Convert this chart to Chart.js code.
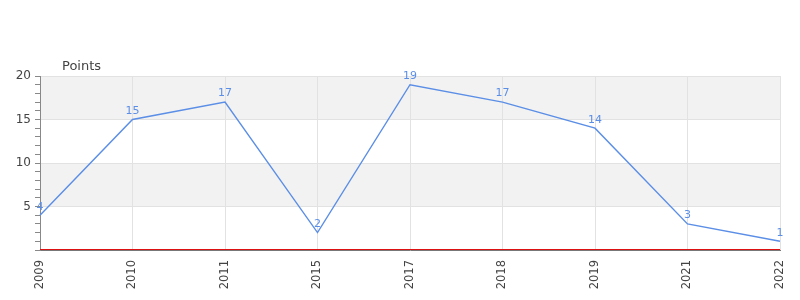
<!DOCTYPE html>
<html lang="en">
<head>
    <meta charset="UTF-8">
    <title>Points</title>
    <script src="https://cdn.jsdelivr.net/npm/chart.js"></script>
    <style>
        html, body { margin: 0; padding: 0; background: #fff; }
        .chart-box { width: 800px; height: 300px; position: relative; }
    </style>
</head>
<body>
    <div class="chart-box">
        <canvas id="line-chart"></canvas>
    </div>

    <script>
        // Data
        const years = ['2009', '2010', '2011', '2015', '2017', '2018', '2019', '2021', '2022'];
        const points = [4, 15, 17, 2, 19, 17, 14, 3, 1];
        const yTicks = [5, 10, 15, 20];

        const lineColor = '#5b8ee6';
        const textColor = '#444444';

        // Alternating grey bands behind the plot (15-20 and 5-10)
        const bandsPlugin = {
            id: 'bands',
            beforeDraw(chart) {
                const { ctx, chartArea, scales } = chart;
                const y = scales.y;
                ctx.save();
                ctx.fillStyle = '#f2f2f2';
                [[15, 20], [5, 10]].forEach(([a, b]) => {
                    const top = y.getPixelForValue(b);
                    const bottom = y.getPixelForValue(a);
                    ctx.fillRect(chartArea.left, top, chartArea.right - chartArea.left, bottom - top);
                });
                ctx.restore();
            },
            afterDraw(chart) {
                const { ctx, chartArea, scales } = chart;
                // red zero line, sitting just above the grey axis line
                const y0 = Math.round(scales.y.getPixelForValue(0));
                ctx.save();
                ctx.strokeStyle = '#dd1111';
                ctx.lineWidth = 1;
                ctx.beginPath();
                ctx.moveTo(chartArea.left, y0 - 0.5);
                ctx.lineTo(chartArea.right, y0 - 0.5);
                ctx.stroke();

                // value labels above each point
                const meta = chart.getDatasetMeta(0);
                ctx.fillStyle = lineColor;
                ctx.font = '11px "DejaVu Sans", sans-serif';
                ctx.textAlign = 'center';
                ctx.textBaseline = 'bottom';
                meta.data.forEach((pt, i) => {
                    ctx.fillText(String(points[i]), pt.x, pt.y - 3);
                });

                // axis title "Points"
                ctx.fillStyle = textColor;
                ctx.font = '13px "DejaVu Sans", sans-serif';
                ctx.textAlign = 'left';
                ctx.textBaseline = 'alphabetic';
                ctx.fillText('Points', chartArea.left + 22, chartArea.top - 6);
                ctx.restore();
            }
        };

        const ctx = document.getElementById('line-chart').getContext('2d');
        new Chart(ctx, {
            type: 'line',
            data: {
                labels: years,
                datasets: [{
                    label: 'Points',
                    data: points,
                    borderColor: lineColor,
                    borderWidth: 1.4,
                    pointRadius: 0,
                    tension: 0,
                    fill: false
                }]
            },
            options: {
                responsive: true,
                maintainAspectRatio: false,
                animation: false,
                layout: { padding: { top: 76, right: 20, bottom: 0, left: 0 } },
                plugins: {
                    legend: { display: false },
                    tooltip: { enabled: false }
                },
                scales: {
                    x: {
                        offset: false,
                        afterFit(scale) {
                            scale.height = 50;
                            scale.paddingLeft = 0;
                            scale.paddingRight = 0;
                        },
                        grid: {
                            color: '#e2e2e2',
                            drawTicks: false
                        },
                        border: { color: '#777777', width: 1 },
                        ticks: {
                            color: textColor,
                            autoSkip: false,
                            font: { family: '"DejaVu Sans", sans-serif', size: 11.5 },
                            minRotation: 90,
                            maxRotation: 90,
                            padding: 10
                        }
                    },
                    y: {
                        min: 0,
                        max: 20,
                        afterFit(scale) { scale.width = 40; },
                        afterBuildTicks(scale) {
                            const t = [];
                            for (let v = 0; v <= 20; v++) t.push({ value: v });
                            scale.ticks = t;
                        },
                        grid: {
                            color: c => (yTicks.includes(c.tick.value) ? '#e2e2e2' : 'rgba(0,0,0,0)'),
                            tickColor: '#888888',
                            tickLength: 5
                        },
                        border: { color: '#888888' },
                        ticks: {
                            color: textColor,
                            autoSkip: false,
                            font: { family: '"DejaVu Sans", sans-serif', size: 12 },
                            padding: 4,
                            callback: v => (yTicks.includes(v) ? String(v) : '')
                        }
                    }
                }
            },
            plugins: [bandsPlugin]
        });
    </script>
</body>
</html>
